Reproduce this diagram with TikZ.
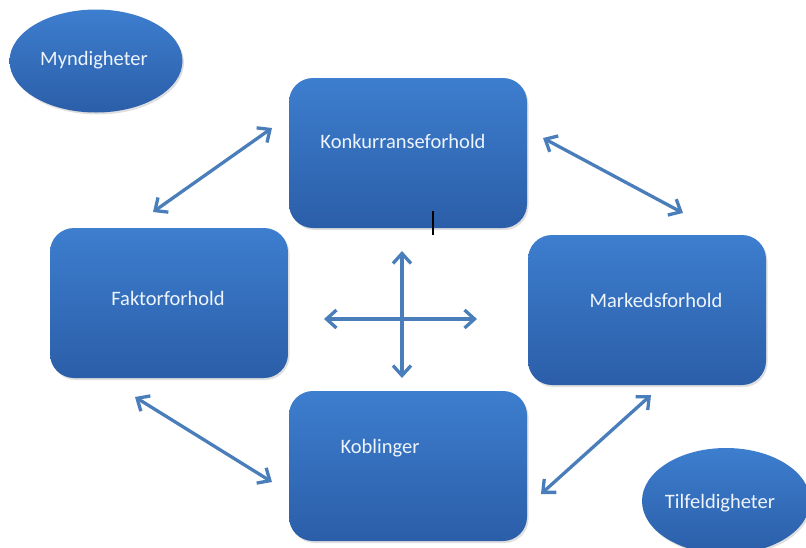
\documentclass[tikz,border=0pt]{standalone}
\usepackage{fontspec}
\setmainfont{Carlito}
\usetikzlibrary{arrows.meta,shadows,shapes.geometric}
\definecolor{boxtop}{HTML}{3D7ECE}
\definecolor{boxbot}{HTML}{2B5EA9}
\definecolor{arrowc}{HTML}{4A7EBB}
\definecolor{txtc}{HTML}{EEF4FB}
\tikzset{
  stepbox/.style={rectangle, rounded corners=24pt, top color=boxtop, bottom color=boxbot,
    draw=none, minimum width=238pt, minimum height=150pt, inner sep=0pt,
    drop shadow={shadow xshift=1.5pt, shadow yshift=-2pt, opacity=0.25}},
  oval/.style={ellipse, top color=boxtop, bottom color=boxbot, draw=none, inner sep=0pt,
    drop shadow={shadow xshift=1.5pt, shadow yshift=-2pt, opacity=0.25}},
  lbl/.style={text=txtc, font=\fontsize{20.5}{23}\selectfont, inner sep=0pt},
  link/.style={draw=arrowc, line width=3.3pt, {Straight Barb[length=10pt,width=18pt,line width=3.3pt]}-{Straight Barb[length=10pt,width=18pt,line width=3.3pt]}}
}
\begin{document}
\begin{tikzpicture}[x=1pt,y=-1pt]
\useasboundingbox (0,0) rectangle (806,547);
% ellipses
\node[oval, minimum width=173pt, minimum height=103pt] (myn) at (96,61) {};
\node[lbl] (mynl) at (94,60) {Myndigheter};
\node[oval, minimum width=168pt, minimum height=106pt] (tilf) at (726,501) {};
\node[lbl] (tilfl) at (720,503) {Tilfeldigheter};
% boxes
\node[stepbox] (konk) at (408,153) {};
\node[lbl] (konkl) at (403,141) {Konkurranseforhold};
\node[stepbox] (fakt) at (169,303) {};
\node[lbl] (faktl) at (168,298) {Faktorforhold};
\node[stepbox] (mark) at (647,310) {};
\node[lbl] (markl) at (656,300) {Markedsforhold};
\node[stepbox] (kobl) at (408,466) {};
\node[lbl] (kobll) at (380,448) {Koblinger};
% arrow end points
\coordinate (a1) at (153,212); \coordinate (a2) at (272,128);
\coordinate (b1) at (543,138); \coordinate (b2) at (683,213);
\coordinate (c1) at (135,397); \coordinate (c2) at (272,482);
\coordinate (d1) at (541,494); \coordinate (d2) at (651,395);
\coordinate (h1) at (324,319); \coordinate (h2) at (477,319);
\coordinate (v1) at (402,251); \coordinate (v2) at (402,378);
\draw[link] (a1) -- (a2);
\draw[link] (b1) -- (b2);
\draw[link] (c1) -- (c2);
\draw[link] (d1) -- (d2);
\draw[link] (h1) -- (h2);
\draw[link] (v1) -- (v2);
% cursor mark
\coordinate (m1) at (433,211); \coordinate (m2) at (433,235);
\draw[line width=1.3pt, black] (m1) -- (m2);
\end{tikzpicture}
\end{document}
